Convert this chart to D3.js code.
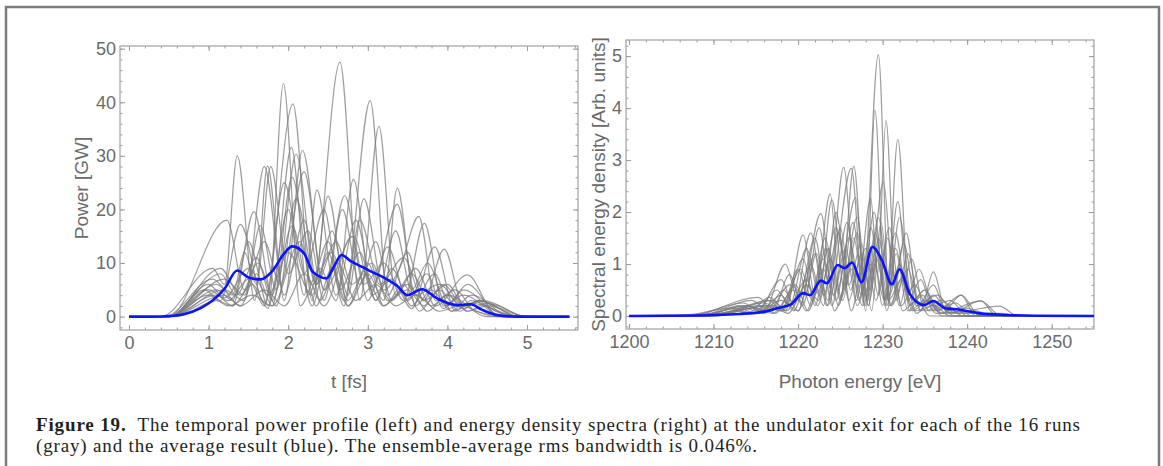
<!DOCTYPE html>
<html>
<head>
<meta charset="utf-8">
<script src="https://cdn.jsdelivr.net/npm/d3@7"></script>
<style>
  body { margin: 0; background: #fff; }
  svg { display: block; }
  .tick text { font-family: "Liberation Sans", Arial, sans-serif; font-size: 18px; fill: #6a6a6a; }
  .tick line { stroke: #9a9a9a; }
  .label { font-family: "Liberation Sans", Arial, sans-serif; font-size: 19px; fill: #6a6a6a; }
  .caption { font-family: "Liberation Serif", "Times New Roman", serif; font-size: 19px; fill: #231f20; }
</style>
</head>
<body>
<svg width="1163" height="466"></svg>
<script>
// ---- data (extrema of each curve) ----
// left: temporal power profile, t [fs] vs power [GW], 16 runs
const powerRuns = [
  [[0,0],[0.6,0],[1.1,3],[1.3,2],[1.55,6],[1.75,1.5],[1.94,43.5],[2.15,2],[2.4,9],[2.6,3],[2.82,25.6],[3.05,4],[3.3,7],[3.55,1.5],[3.84,13],[4.1,1],[4.3,3],[4.8,0.1],[5.53,0]],
  [[0,0],[0.5,0],[0.95,5],[1.15,3],[1.4,17.2],[1.7,2.5],[2.06,39.7],[2.3,3],[2.5,22.5],[2.75,2],[3.0,8],[3.2,3],[3.37,24],[3.6,2],[3.8,5],[4.05,1],[4.3,2.5],[4.9,0],[5.53,0]],
  [[0,0],[0.5,0],[1.0,6],[1.2,3.5],[1.5,9],[1.75,4],[2.0,12],[2.3,4],[2.65,47.5],[2.9,3],[3.14,35.5],[3.35,4],[3.6,9],[3.85,2],[4.25,7.8],[4.6,0.5],[5.1,0],[5.53,0]],
  [[0,0],[0.4,0],[1.05,9],[1.2,6],[1.36,30],[1.58,3],[1.74,28.1],[1.95,3],[2.18,31],[2.45,5],[2.71,22.6],[2.95,6],[3.2,10],[3.45,3],[3.71,17.4],[3.95,2],[4.2,4],[4.7,0],[5.53,0]],
  [[0,0],[0.5,0],[1.1,4],[1.3,2],[1.57,19.6],[1.8,4],[2.04,31.6],[2.25,4],[2.5,14],[2.7,3],[3.03,40.3],[3.25,4],[3.5,12],[3.7,3],[3.96,12.6],[4.2,2],[4.4,3],[4.9,0],[5.53,0]],
  [[0,0],[0.5,0],[1.23,18],[1.45,5],[1.7,14],[1.9,6],[2.2,27],[2.45,5],[2.82,15],[3.05,5],[3.37,21],[3.6,4],[3.9,6],[4.2,1.5],[4.4,3],[4.9,0],[5.53,0]],
  [[0,0],[0.5,0],[1.2,7],[1.45,4],[1.65,17],[1.85,5],[2.1,30.3],[2.35,6],[2.55,16],[2.75,4],[2.95,22],[3.2,5],[3.4,9],[3.64,18.7],[3.85,3],[4.1,5],[4.35,1],[4.8,0],[5.53,0]],
  [[0,0],[0.5,0],[1.1,5],[1.3,3],[1.5,14],[1.75,2],[2.0,20],[2.2,4],[2.36,23.6],[2.6,4],[2.85,18],[3.1,3],[3.3,9],[3.55,2],[3.84,8],[4.05,1],[4.3,4],[4.8,0],[5.53,0]],
  [[0,0],[0.5,0],[1.15,8],[1.35,4],[1.6,11],[1.8,3],[2.05,17],[2.3,2],[2.5,12],[2.7,2],[2.9,18],[3.15,6],[3.45,11],[3.7,3],[4.0,6],[4.25,1],[4.5,2.5],[5.0,0],[5.53,0]],
  [[0,0],[0.45,0],[1.05,7],[1.3,4],[1.45,12],[1.6,6],[1.78,28],[2.0,8],[2.25,16],[2.45,3],[2.68,20],[2.9,6],[3.1,14],[3.3,3],[3.55,8],[3.8,2],[4.0,4],[4.5,0],[5.53,0]],
  [[0,0],[0.5,0],[1.0,5],[1.25,3],[1.5,7],[1.7,2],[1.95,25],[2.2,8],[2.45,20],[2.65,5],[2.9,12],[3.1,3],[3.35,16],[3.55,5],[3.75,10],[4.0,2],[4.25,6],[4.6,1],[5.0,0],[5.53,0]],
  [[0,0],[0.5,0],[1.2,4],[1.4,2],[1.6,8],[1.8,2],[2.15,14],[2.35,2],[2.55,9],[2.75,2],[3.0,10],[3.2,2],[3.45,6],[3.65,1],[3.9,5],[4.15,1],[4.4,3],[4.9,0],[5.53,0]],
  [[0,0],[0.5,0],[1.1,6],[1.4,2],[1.7,5],[1.95,2],[2.2,8],[2.45,2],[2.8,15],[3.0,3],[3.25,13],[3.5,3],[3.74,8],[3.95,1.5],[4.2,5],[4.7,0],[5.53,0]],
  [[0,0],[0.5,0],[1.0,4],[1.25,2],[1.55,4],[1.8,2],[2.05,26],[2.3,6],[2.55,12],[2.75,3],[2.95,8],[3.2,2],[3.5,6],[3.75,1],[4.0,4],[4.25,1],[4.5,2],[5.0,0],[5.53,0]],
  [[0,0],[0.5,0],[1.15,9],[1.4,4],[1.62,10],[1.85,2],[2.1,22],[2.35,6],[2.6,14],[2.8,6],[3.05,10],[3.25,3],[3.5,5],[3.7,2],[3.95,6],[4.2,2],[4.45,3],[5.0,0],[5.53,0]],
  [[0,0],[0.5,0],[1.2,5],[1.45,3],[1.7,28],[1.95,4],[2.2,18],[2.4,3],[2.62,10],[2.85,3],[3.1,6],[3.35,2],[3.6,4],[3.9,1],[4.15,2],[4.6,0],[5.53,0]]
];
const powerAverage = [[0,0],[0.3,0],[0.5,0.1],[0.7,0.5],[0.9,1.6],[1.05,3.0],[1.2,5.2],[1.36,8.6],[1.5,7.3],[1.65,6.95],[1.8,8.5],[1.95,11.8],[2.05,13.1],[2.2,11.8],[2.3,8.5],[2.38,7.6],[2.48,7.1],[2.58,9.5],[2.67,11.5],[2.78,10.4],[2.98,8.9],[3.03,8.5],[3.16,7.6],[3.37,5.7],[3.5,4.0],[3.68,5.1],[3.87,3.4],[4.12,2.15],[4.29,2.3],[4.43,1.3],[4.62,0.3],[4.87,0],[5.53,0]];

// right: energy density spectra, photon energy [eV] vs arb. units, 16 runs
const spectrumRuns = [
  [[1200,0],[1208,0],[1213,0.1],[1215,0.05],[1218,0.3],[1220,0.1],[1222.7,1.97],[1224.3,0.1],[1226.3,0.9],[1227.6,0.2],[1229.5,5.03],[1230.8,0.2],[1232.5,0.8],[1234,0.05],[1236,0.4],[1238,0.05],[1241.6,0.29],[1244,0],[1255,0]],
  [[1200,0],[1206,0],[1212,0.15],[1214,0.05],[1216.6,0.36],[1218.5,0.1],[1220.6,1.56],[1222,0.4],[1223.8,2.35],[1225,0.3],[1226.6,2.88],[1228,0.1],[1229.1,3.96],[1230.3,0.2],[1231.8,2.2],[1233.2,0.1],[1235,0.3],[1237,0.05],[1239.3,0.4],[1241,0],[1255,0]],
  [[1200,0],[1207,0],[1215.3,0.36],[1217,0.1],[1219,0.8],[1220.5,0.2],[1222.2,1.2],[1223.5,0.3],[1225.4,2.86],[1226.9,0.3],[1228.6,2.26],[1229.4,0.8],[1230.4,3.76],[1231.6,0.3],[1233,1.2],[1234.5,0.1],[1236,0.85],[1237.5,0.1],[1240,0.15],[1242,0],[1255,0]],
  [[1200,0],[1208,0],[1214,0.2],[1216,0.1],[1218.5,1.0],[1220,0.3],[1222,1.5],[1223.5,0.2],[1226.3,2.84],[1227.8,0.2],[1229.1,1.6],[1230.5,0.3],[1231.8,3.4],[1233.2,0.2],[1235,0.5],[1237,0.05],[1240,0.1],[1243.8,0.19],[1246,0],[1255,0]],
  [[1200,0],[1210,0.05],[1213,0.2],[1215,0.1],[1217.5,0.5],[1219,0.2],[1221,1.3],[1222.5,0.4],[1224,2.24],[1225.5,0.5],[1227,1.6],[1228.2,0.3],[1230.1,2.58],[1231.3,0.6],[1232.5,1.4],[1234,0.2],[1236.5,0.4],[1238.5,0.05],[1241,0.1],[1243,0],[1255,0]],
  [[1200,0],[1209,0],[1216,0.25],[1218,0.1],[1220,0.9],[1221.5,0.2],[1223.2,1.5],[1224.6,0.5],[1226.8,2.28],[1228,0.3],[1229.5,1.9],[1230.8,0.4],[1232,1.0],[1233.5,0.1],[1235.5,0.3],[1237,0],[1255,0]],
  [[1200,0],[1208,0],[1214.5,0.3],[1216.5,0.1],[1219,0.6],[1220.8,0.4],[1222.5,1.7],[1224,0.2],[1225.8,1.8],[1227.2,0.3],[1228.6,1.7],[1230,0.2],[1231.5,1.6],[1233,0.3],[1234.5,0.7],[1236,0.1],[1238.7,0.25],[1240.5,0],[1255,0]],
  [[1200,0],[1210,0],[1217,0.3],[1218.6,0.1],[1221,0.7],[1222.3,0.2],[1224.5,1.7],[1226,0.6],[1227.5,1.4],[1228.7,0.1],[1229.8,1.8],[1231,0.2],[1232.8,1.6],[1234.2,0.2],[1236,0.6],[1237.5,0.1],[1241.6,0.29],[1243.5,0],[1255,0]],
  [[1200,0],[1207,0],[1213.5,0.25],[1215.5,0.1],[1218,0.4],[1219.5,0.1],[1221.5,1.0],[1223,0.2],[1224.5,2.0],[1226,0.3],[1227.5,1.2],[1228.5,0.5],[1229.5,1.5],[1231,0.2],[1233,0.9],[1234.5,0.1],[1237,0.3],[1239,0.05],[1244,0.05],[1246,0],[1255,0]],
  [[1200,0],[1209,0],[1215,0.15],[1217,0.05],[1219.5,0.5],[1221,0.1],[1223,1.1],[1224.5,0.3],[1226,1.5],[1227.5,0.4],[1229,2.0],[1230.3,0.3],[1231.5,1.3],[1233,0.4],[1234.3,0.9],[1236,0.2],[1238,0.3],[1240,0],[1255,0]],
  [[1200,0],[1210,0],[1216,0.2],[1218,0.1],[1220.3,0.9],[1221.7,0.3],[1223.3,1.3],[1224.8,0.2],[1226.5,1.8],[1228,0.2],[1229.2,1.3],[1230.5,0.1],[1232,1.9],[1233.5,0.3],[1235,0.5],[1236.5,0.1],[1239.3,0.4],[1241.5,0],[1255,0]],
  [[1200,0],[1208,0],[1213,0.15],[1215,0.05],[1218,0.7],[1219.5,0.2],[1221.5,1.6],[1223,0.4],[1224.8,1.6],[1226.3,0.1],[1228,1.3],[1229.2,0.3],[1230.8,1.7],[1232.2,0.2],[1233.8,0.6],[1235.5,0.1],[1237.5,0.2],[1239.5,0],[1255,0]],
  [[1200,0],[1210,0],[1216.5,0.3],[1218.2,0.1],[1220.6,1.1],[1222,0.2],[1223.6,1.3],[1225,0.3],[1227,1.9],[1228.3,0.2],[1229.3,1.1],[1230.5,0.2],[1231.6,1.2],[1233,0.1],[1234.7,0.4],[1236.3,0.05],[1240,0.1],[1242,0],[1255,0]],
  [[1200,0],[1209,0],[1215.5,0.2],[1217.3,0.05],[1219.7,0.6],[1221.2,0.1],[1223,0.9],[1224.2,0.4],[1225.6,1.3],[1227,0.2],[1228.6,1.0],[1229.5,0.4],[1230.6,1.5],[1232,0.2],[1233.4,1.1],[1235,0.1],[1236.8,0.2],[1238.5,0],[1255,0]],
  [[1200,0],[1208,0],[1214,0.2],[1216,0.05],[1218.3,0.5],[1220,0.1],[1222,1.2],[1223.4,0.2],[1225,1.7],[1226.2,0.5],[1227.4,1.1],[1228.3,0.2],[1229.5,1.2],[1230.7,0.3],[1232.2,0.7],[1233.8,0.1],[1236,0.2],[1238,0],[1255,0]],
  [[1200,0],[1209,0],[1217,0.2],[1218.8,0.05],[1221,0.6],[1222.4,0.3],[1223.8,1.1],[1225.3,0.3],[1226.6,1.5],[1227.8,0.4],[1229,1.0],[1230.2,0.3],[1231.2,0.8],[1232.4,0.1],[1234,0.3],[1235.6,0],[1255,0]]
];
const spectrumAverage = [[1200,0],[1205,0.005],[1210,0.02],[1213,0.04],[1215.9,0.08],[1217.5,0.15],[1219.2,0.23],[1220.6,0.44],[1221.4,0.40],[1222.7,0.68],[1223.4,0.63],[1224.7,0.98],[1225.5,0.92],[1226.4,1.03],[1227.5,0.65],[1228.8,1.33],[1229.9,1.08],[1231.1,0.61],[1232.0,0.9],[1233.2,0.43],[1234.9,0.21],[1236.0,0.29],[1237.4,0.15],[1238.7,0.13],[1241.5,0.05],[1244.7,0.02],[1248,0.005],[1255,0]];

const powerXTicks = [0, 1, 2, 3, 4, 5];
const powerYTicks = [0, 10, 20, 30, 40, 50];
const energyXTicks = [1200, 1210, 1220, 1230, 1240, 1250];
const energyYTicks = [0, 1, 2, 3, 4, 5];

const captionLines = [
  ['Figure 19.', '  The temporal power profile (left) and energy density spectra (right) at the undulator exit for each of the 16 runs'],
  ['', '(gray) and the average result (blue). The ensemble-average rms bandwidth is 0.046%.']
];

// ---- drawing ----
const svg = d3.select('svg');

// outer figure border
svg.append('path')
  .attr('d', 'M6,470 L6,7 L1159,7 L1159,470')
  .attr('fill', 'none')
  .attr('stroke', '#7b7b7b')
  .attr('stroke-width', 2.5);

function minorValues(domain, step) {
  const out = [];
  const n0 = Math.ceil(domain[0] / step);
  const n1 = Math.floor(domain[1] / step);
  for (let n = n0; n <= n1; n++) out.push(+(n * step).toFixed(6));
  return out;
}

function panel(opts) {
  const x = d3.scaleLinear().domain(opts.xDomain).range([opts.left, opts.right]);
  const y = d3.scaleLinear().domain(opts.yDomain).range([opts.bottom, opts.top]);
  const g = svg.append('g');

  const xMinor = minorValues(opts.xDomain, opts.xMinorStep);
  const yMinor = minorValues(opts.yDomain, opts.yMinorStep);

  const axes = [
    [d3.axisBottom, `translate(0,${opts.bottom})`, x, opts.xTicks, xMinor, true, true],
    [d3.axisTop, `translate(0,${opts.top})`, x, opts.xTicks, xMinor, false, true],
    [d3.axisLeft, `translate(${opts.left},0)`, y, opts.yTicks, yMinor, true, false],
    [d3.axisRight, `translate(${opts.right},0)`, y, opts.yTicks, yMinor, false, false]
  ];
  axes.forEach(([fn, tr, sc, major, minor, labels, isX]) => {
    g.append('g').attr('transform', tr)
      .call(fn(sc).tickValues(minor).tickSize(-2.5).tickSizeOuter(0).tickFormat(''))
      .call(a => a.select('.domain').remove());
    g.append('g').attr('transform', tr)
      .call(fn(sc).tickValues(major).tickSize(-5).tickSizeOuter(0)
        .tickPadding(isX ? 6 : 4)
        .tickFormat(labels ? d3.format('d') : ''))
      .call(a => a.select('.domain').remove());
  });

  g.append('rect')
    .attr('x', opts.left).attr('y', opts.top)
    .attr('width', opts.right - opts.left).attr('height', opts.bottom - opts.top)
    .attr('fill', 'none').attr('stroke', '#a8a8a8').attr('stroke-width', 1.3);

  const line = d3.line()
    .x(d => x(d[0]))
    .y(d => y(d[1]))
    .curve(d3.curveMonotoneX);

  g.selectAll('.run')
    .data(opts.runs)
    .enter()
    .append('path')
    .attr('class', 'run')
    .attr('d', line)
    .attr('fill', 'none')
    .attr('stroke', '#7c7c7c')
    .attr('stroke-opacity', 0.75)
    .attr('stroke-width', 1.2);

  g.append('path')
    .datum(opts.average)
    .attr('d', line)
    .attr('fill', 'none')
    .attr('stroke', '#0a14ff')
    .attr('stroke-width', 2.6);

  g.append('text')
    .attr('class', 'label')
    .attr('transform', `translate(${opts.yTitleX},${(opts.top + opts.bottom) / 2}) rotate(-90)`)
    .attr('text-anchor', 'middle')
    .attr('dy', '0.35em')
    .text(opts.yTitle);

  g.append('text')
    .attr('class', 'label')
    .attr('x', (opts.left + opts.right) / 2)
    .attr('y', 381)
    .attr('text-anchor', 'middle')
    .attr('dy', '0.35em')
    .text(opts.xTitle);
}

panel({
  left: 120, right: 578, top: 46, bottom: 330,
  xDomain: [-0.113, 5.64], yDomain: [-2.5, 50.5],
  xTicks: powerXTicks, yTicks: powerYTicks, xMinorStep: 0.2, yMinorStep: 2,
  runs: powerRuns, average: powerAverage,
  xTitle: 't [fs]', yTitle: 'Power [GW]', yTitleX: 81
});

panel({
  left: 626, right: 1094, top: 40, bottom: 329,
  xDomain: [1199.65, 1255], yDomain: [-0.25, 5.31],
  xTicks: energyXTicks, yTicks: energyYTicks, xMinorStep: 2, yMinorStep: 0.2,
  runs: spectrumRuns, average: spectrumAverage,
  xTitle: 'Photon energy [eV]', yTitle: 'Spectral energy density [Arb. units]', yTitleX: 598
});

// caption
const capWidths = [1044, 721];
captionLines.forEach((parts, i) => {
  const t = svg.append('text')
    .attr('class', 'caption')
    .attr('x', 36)
    .attr('y', 431 + i * 21)
    .attr('textLength', capWidths[i])
    .attr('lengthAdjust', 'spacing')
    .style('white-space', 'pre');
  if (parts[0]) t.append('tspan').attr('font-weight', 'bold').text(parts[0]);
  t.append('tspan').text(parts[1]);
});
</script>
</body>
</html>
